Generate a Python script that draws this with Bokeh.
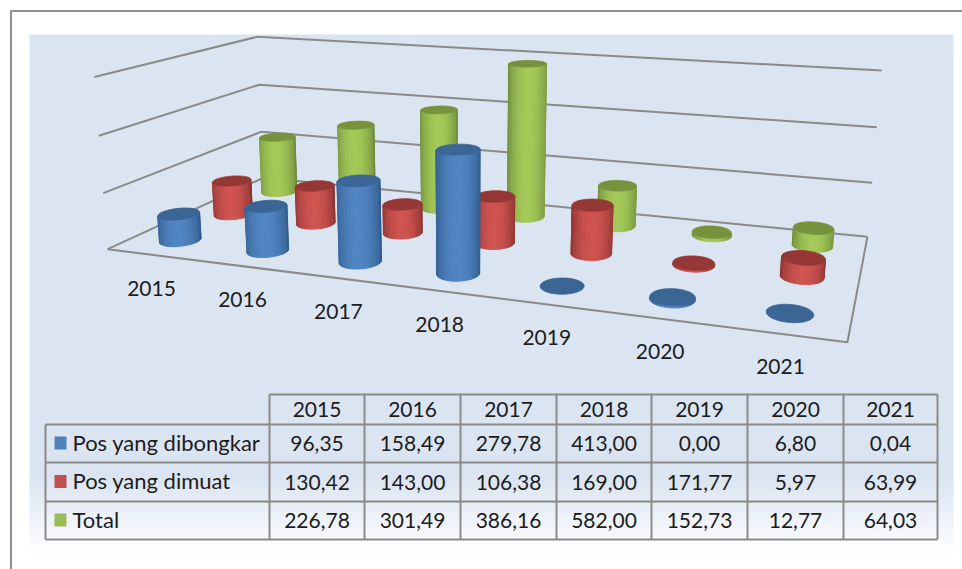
import numpy as np
from bokeh.plotting import figure
from bokeh.models import Range1d, ColumnDataSource
from bokeh.core.properties import value
from bokeh.embed import file_html
from bokeh.resources import INLINE

categories = ["2015", "2016", "2017", "2018", "2019", "2020", "2021"]
series_names = ["Pos yang dibongkar", "Pos yang dimuat", "Total"]
dibongkar = [96.35, 158.49, 279.78, 413.00, 0.00, 6.80, 0.04]
dimuat = [130.42, 143.00, 106.38, 169.00, 171.77, 5.97, 63.99]
total = [226.78, 301.49, 386.16, 582.00, 152.73, 12.77, 64.03]
gridlevels = [0, 200, 400, 600]

FONT = "Lato"
GRID = "#8a8a8a"
TXT = "#1c1c1c"
palette = [  # light, dark, top, legend
    ("#5185c4", "#305a8a", "#3a6595", "#4f81bd"),
    ("#cf534f", "#8a3230", "#953735", "#c0504d"),
    ("#a3c957", "#6e8a3a", "#76923c", "#9bbb59"),
]

# camera: world (category, depth, value) -> screen px, fitted from the box corners
anchors = [
    ((0, 0, 0), (108, 248)), ((7, 0, 0), (847, 342)), ((7, 3, 0), (867, 236)), ((0, 3, 0), (262, 178)),
    ((0, 0, 200), (103, 193)), ((0, 0, 400), (98, 135)), ((0, 0, 600), (93, 77)),
    ((0, 3, 200), (261, 131)), ((0, 3, 400), (259, 84)), ((0, 3, 600), (258, 36)),
    ((7, 3, 200), (872, 182)), ((7, 3, 400), (876, 127)), ((7, 3, 600), (881, 70)),
]
A = []
b = []
for (X, Y, Z), (u, v) in anchors:
    A.append([X, Y, Z, 1, 0, 0, 0, 0, -u * X, -u * Y, -u * Z]); b.append(u)
    A.append([0, 0, 0, 0, X, Y, Z, 1, -v * X, -v * Y, -v * Z]); b.append(v)
h = np.linalg.lstsq(np.array(A, float), np.array(b, float), rcond=None)[0]
P = np.append(h, 1.0).reshape(3, 4)


def proj(X, Y, Z):
    X, Y, Z = np.broadcast_arrays(np.asarray(X, float), np.asarray(Y, float), np.asarray(Z, float))
    w = P[2, 0] * X + P[2, 1] * Y + P[2, 2] * Z + P[2, 3]
    return ((P[0, 0] * X + P[0, 1] * Y + P[0, 2] * Z + P[0, 3]) / w,
            (P[1, 0] * X + P[1, 1] * Y + P[1, 2] * Z + P[1, 3]) / w)


def unproj_floor(u, v):
    M = np.array([[P[0, 0] - u * P[2, 0], P[0, 1] - u * P[2, 1]],
                  [P[1, 0] - v * P[2, 0], P[1, 1] - v * P[2, 1]]])
    return np.linalg.solve(M, [u * P[2, 3] - P[0, 3], v * P[2, 3] - P[1, 3]])


def mix(c1, c2, t):
    a = [int(c1[i:i + 2], 16) for i in (1, 3, 5)]
    d = [int(c2[i:i + 2], 16) for i in (1, 3, 5)]
    return "#%02x%02x%02x" % tuple(int(round(a[i] + (d[i] - a[i]) * t)) for i in range(3))


p = figure(width=962, height=569, x_range=Range1d(0, 962), y_range=Range1d(569, 0),
           output_backend="svg", toolbar_location=None, min_border=0)
p.axis.visible = False
p.grid.visible = False
p.outline_line_color = None
p.background_fill_color = "white"
p.border_fill_color = "white"

# panel with fade to white
p.quad(left=29, right=953, top=34, bottom=480, fill_color="#dbe5f1", line_color=None)
ys = np.arange(478, 556, 2)
cols = [mix("#dbe5f1", "#ffffff", float(np.clip((y - 478) / 76, 0, 1))) for y in ys]
p.quad(left=29, right=953, top=ys, bottom=ys + 3, fill_color=cols, line_color=None)

# outer frame
p.line([962, 10.5, 10.5], [10.5, 10.5, 569], line_color="#8f8f8f", line_width=2)

# walls and floor
for lv in gridlevels:
    x, y = proj([0, 0, 7], [0, 3, 3], [lv, lv, lv])
    p.line(x, y, line_color=GRID, line_width=2)
x, y = proj([0, 7, 7], [0, 0, 3], [0, 0, 0])
p.line(x, y, line_color=GRID, line_width=2)

# cylinders, back row first
R_X, R_D = 0.195, 0.22
N = 48
th = np.linspace(0, 2 * np.pi, N + 1)
xs_all, ys_all, col_all = [], [], []
for s, vals in reversed(list(enumerate([dibongkar, dimuat, total]))):
    light, dark, top_c, _ = palette[s]
    for c, val in enumerate(vals):
        cx, cy = c + 0.5, s + 0.5
        wx, wy = cx + R_X * np.cos(th), cy + R_D * np.sin(th)
        bx, by = proj(wx, wy, 0 * wx)
        tx, ty = proj(wx, wy, 0 * wx + val)
        lo, hi = min(bx.min(), tx.min()), max(bx.max(), tx.max())
        if val > 0.5:
            for i in range(N):
                qx = [bx[i], bx[i + 1], tx[i + 1], tx[i]]
                qy = [by[i], by[i + 1], ty[i + 1], ty[i]]
                area = 0.5 * sum(qx[j] * qy[(j + 1) % 4] - qx[(j + 1) % 4] * qy[j] for j in range(4))
                if area >= 0:
                    continue
                t = (0.5 * (bx[i] + bx[i + 1]) - lo) / (hi - lo)
                xs_all.append(qx); ys_all.append(qy)
                col_all.append(mix(dark, light, float(np.sin(np.pi * np.clip(t, 0, 1)) ** 0.7)))
        xs_all.append(list(tx)); ys_all.append(list(ty)); col_all.append(top_c)
src = ColumnDataSource(dict(xs=xs_all, ys=ys_all, c=col_all))
p.patches("xs", "ys", source=src, fill_color="c", line_color="c", line_width=0.8)

# category labels on the floor: evenly spaced in world units between the two end labels
w0 = unproj_floor(151, 288)
w1 = unproj_floor(780, 366)
fr = np.linspace(0, 1, 7)
lx, ly = proj(w0[0] + (w1[0] - w0[0]) * fr, w0[1] + (w1[1] - w0[1]) * fr, np.zeros(7))
p.text(lx, ly, text=categories, text_font=value(FONT), text_font_size="21px", text_color=TXT,
       text_align="center", text_baseline="middle")

# data table
col_edges = [269, 364, 460, 556, 651, 747, 843, 937]
row_edges = [394, 424, 462, 501, 539]
LEFT = 45
for x_ in col_edges:
    p.line([x_, x_], [row_edges[0], row_edges[-1]], line_color=GRID, line_width=2)
p.line([LEFT, LEFT], [row_edges[1], row_edges[-1]], line_color=GRID, line_width=2)
p.line([col_edges[0], col_edges[-1]], [row_edges[0], row_edges[0]], line_color=GRID, line_width=2)
for y_ in row_edges[1:]:
    p.line([LEFT, col_edges[-1]], [y_, y_], line_color=GRID, line_width=2)

centers = [(col_edges[i] + col_edges[i + 1]) / 2 for i in range(7)]
p.text(centers, [row_edges[0] + 15] * 7, text=categories, text_font=value(FONT), text_font_size="21px",
       text_color=TXT, text_align="center", text_baseline="middle")
for r, vals in enumerate([dibongkar, dimuat, total]):
    yc = (row_edges[r + 1] + row_edges[r + 2]) / 2
    labels = [f"{v:.2f}".replace(".", ",") for v in vals]
    p.text(centers, [yc] * 7, text=labels, text_font=value(FONT), text_font_size="21px",
           text_color=TXT, text_align="center", text_baseline="middle")
    p.quad(left=54, right=66, top=yc - 7, bottom=yc + 6, fill_color=palette[r][3], line_color=None)
    p.text([72], [yc - 1.5], text=[series_names[r]], text_font=value(FONT), text_font_size="22px",
           text_color=TXT, text_align="left", text_baseline="middle")

open("out.html", "w").write(file_html(p, INLINE))
